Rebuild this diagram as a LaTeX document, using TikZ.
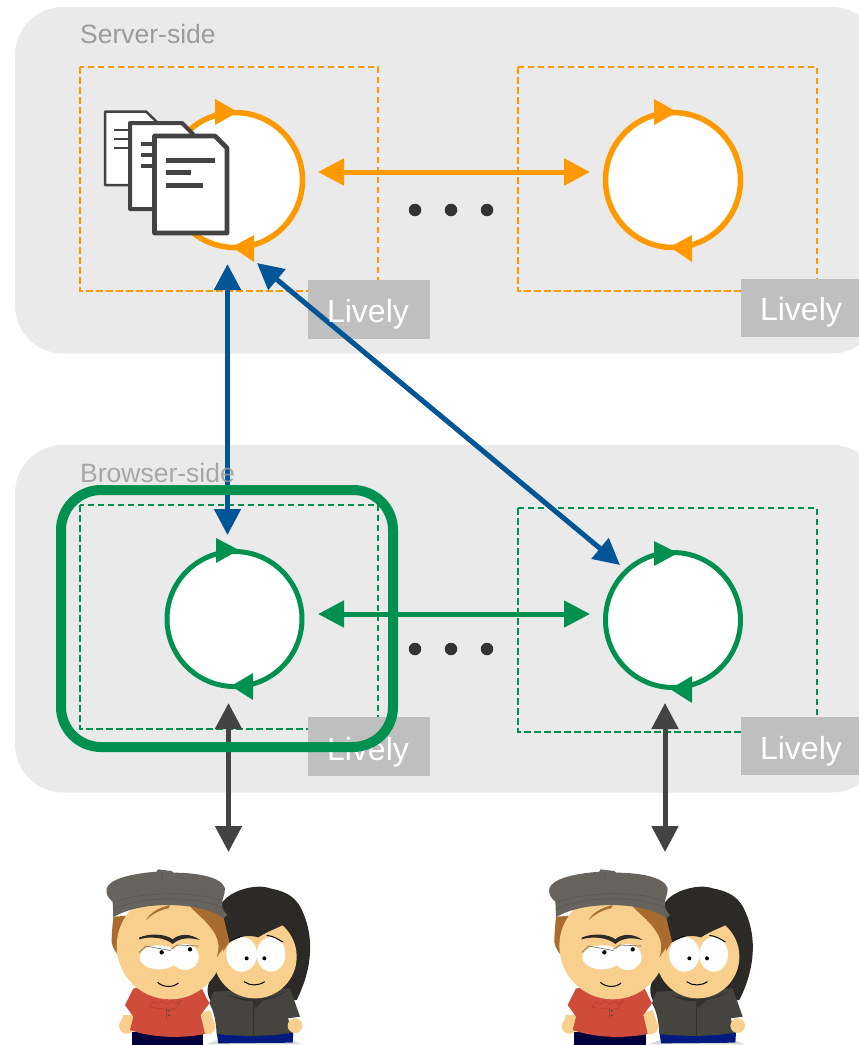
\documentclass[tikz,border=0pt]{standalone}
\usepackage{fontspec}
\setmainfont{Liberation Sans}
\usetikzlibrary{arrows.meta}
\definecolor{panelc}{HTML}{EAEAEA}
\definecolor{labelc}{HTML}{9B9B9B}
\definecolor{orangec}{HTML}{FF9900}
\definecolor{greenc}{HTML}{009150}
\definecolor{bluec}{HTML}{005596}
\definecolor{darkc}{HTML}{434343}
\definecolor{tagc}{HTML}{BFBFBF}
\definecolor{skinc}{HTML}{F9CF8D}
\definecolor{hatc}{HTML}{67645E}
\definecolor{hatl}{HTML}{55534D}
\definecolor{hairc}{HTML}{2B2A26}
\definecolor{brownc}{HTML}{A86C30}
\definecolor{shirtc}{HTML}{CF4C3A}
\definecolor{shirtl}{HTML}{A93C2E}
\definecolor{jacketc}{HTML}{46443F}
\definecolor{jacketl}{HTML}{33312D}
\definecolor{manjeans}{HTML}{00013C}
\definecolor{womanjeans}{HTML}{001A80}
\tikzset{
  x=1pt,y=-1pt,
  panel/.style={fill=panelc,draw=none,rounded corners=48pt},
  zonelabel/.style={text=labelc,font=\fontsize{26.5}{30}\selectfont,anchor=west,inner sep=0pt},
  tag/.style={fill=tagc,minimum width=122pt,minimum height=59pt,inner sep=0pt},
  tagtext/.style={text=white,font=\fontsize{32}{36}\selectfont,inner sep=0pt},
  zone/.style={draw=#1,line width=1.8pt,dash pattern=on 6.5pt off 3.5pt},
  loopc/.style={circle,fill=white,draw=#1,minimum size=135pt,inner sep=0pt},
  looptip/.style={fill=#1,draw=none},
  link/.style={draw=#1,line width=5pt,{Triangle[length=26pt,width=26pt]}-{Triangle[length=26pt,width=26pt]}},
  dotc/.style={circle,fill=black!80,minimum size=12.5pt,inner sep=0pt},
  docc/.style={draw=darkc,fill=white,line join=round},
  docl/.style={draw=darkc},
}
\newcommand{\folks}[2]{%
\begin{scope}[shift={(#1,#2)},scale=1/3]
  \fill[hairc] (395,130) .. controls (420,90) and (500,70) .. (540,85) .. controls (590,95) and (620,110) .. (640,160)
     .. controls (670,230) and (670,320) .. (620,420) -- (360,420) .. controls (345,390) and (355,360) .. (375,340) -- (400,240) -- cycle;
  \fill[black!15] (350,553) -- (635,553) -- (610,542) -- (375,542) -- cycle;
  \fill[womanjeans] (380,515) -- (610,515) -- (608,548) -- (385,550) -- cycle;
  \fill[jacketc] (372,395) .. controls (365,410) and (360,420) .. (358,430) .. controls (370,450) and (378,480) .. (380,522) .. controls (450,530) and (540,530) .. (606,518) .. controls (600,500) and (598,485) .. (594,475) -- (630,470) -- (600,385) -- cycle;
  \fill[skinc] (615,497) circle[radius=22];
  \fill[skinc] (495,290) circle[radius=125];
  \fill[jacketl] (415,405) .. controls (440,420) and (470,425) .. (487,422) -- (497,445) -- (520,420) .. controls (550,415) and (575,405) .. (590,392) .. controls (570,405) and (530,417) .. (495,417) .. controls (465,417) and (440,412) .. (415,405) -- cycle;
  \draw[jacketl,line width=.4pt] (490,420) -- (490,530);
  \fill[hairc] (400,130) .. controls (450,90) and (550,90) .. (610,125) .. controls (630,170) and (610,180) .. (590,190)
    .. controls (560,205) and (530,215) .. (505,232) .. controls (470,222) and (440,232) .. (415,245) -- (395,200) -- cycle;
  \fill[white] (455,283) ellipse[x radius=46,y radius=52];
  \fill[white] (543,283) ellipse[x radius=43,y radius=52];
  \fill[black] (470,295) circle[radius=6] (523,295) circle[radius=6];
  \draw[black,line width=1pt] (462,365) .. controls (480,378) and (505,378) .. (524,365);
  \draw[black,line width=1pt] (530,226) .. controls (550,228) and (565,238) .. (578,246);
  \draw[black,line width=1pt] (415,247) .. controls (430,238) and (445,232) .. (458,228);
  \fill[skinc] (100,465) -- (135,465) -- (130,505) -- (90,495) -- cycle (332,460) -- (360,450) -- (377,500) -- (340,510) -- cycle;
  \fill[skinc] (110,498) circle[radius=23] (353,500) circle[radius=23];
  \fill[manjeans] (125,515) -- (340,515) -- (340,555) -- (125,555) -- cycle;
  \fill[shirtc] (130,385) -- (105,435) -- (130,470) -- (120,510) .. controls (190,535) and (280,535) .. (345,522) -- (332,465) -- (358,430) -- (330,375) -- cycle;
  \draw[shirtl,line width=.4pt] (178,442) -- (190,425) -- (205,432) -- (215,422) -- (230,432) -- (250,422) -- (255,432) -- (272,422) -- (258,445) -- (232,448) -- (178,442);
  \draw[shirtl,line width=.4pt] (230,445) -- (230,478);
  \fill[brownc] (70,170) -- (395,150) .. controls (405,190) and (412,220) .. (418,245) -- (390,290) -- (82,282) .. controls (72,270) and (62,250) .. (65,235) .. controls (66,210) and (68,190) .. (70,170) -- cycle;
  \fill[skinc] (240,258) circle[radius=160];
  \fill[brownc] (168,180) .. controls (180,160) and (200,145) .. (240,135) -- (235,145) .. controls (210,150) and (190,160) .. (168,180) -- cycle;
  \fill[brownc] (300,140) -- (345,130) -- (395,190) -- (410,250) -- (380,292) .. controls (392,260) and (385,230) .. (360,200) .. controls (345,180) and (320,160) .. (300,140) -- cycle;
  \fill[hatc] (50,85) .. controls (58,60) and (110,42) .. (200,35) -- (204,28) -- (245,33) -- (250,38) .. controls (310,38) and (395,48) .. (405,85)
     .. controls (405,105) and (395,120) .. (395,135) .. controls (398,150) and (405,158) .. (412,165) -- (400,175) .. controls (340,125) and (150,120) .. (70,172) -- (68,125) .. controls (50,110) and (48,100) .. (50,85) -- cycle;
  \draw[hatl,line width=.4pt] (70,128) .. controls (150,95) and (320,90) .. (397,125);
  \draw[hatl,line width=.4pt] (70,148) .. controls (150,108) and (320,105) .. (400,145);
  \draw[hatl,line width=.4pt] (213,35) .. controls (220,45) and (218,55) .. (214,62);
  \fill[white] (207,292) ellipse[x radius=58,y radius=36];
  \fill[white] (285,291) ellipse[x radius=42,y radius=39];
  \draw[black!60,line width=.6pt] (147,277) -- (168,258) -- (242,272) (242,268) -- (262,255) -- (325,258);
  \fill[black] (215,277) circle[radius=6.5] (300,268) circle[radius=6.5];
  \fill[hairc] (147,233) .. controls (180,218) and (228,222) .. (248,238) .. controls (265,222) and (300,218) .. (330,240) .. controls (300,232) and (270,232) .. (248,252) .. controls (225,232) and (180,228) .. (147,238) -- cycle;
  \draw[black,line width=1pt] (203,367) .. controls (220,383) and (250,383) .. (265,369);
  \fill[black!70] (237,452) circle[radius=3.5] (237,466) circle[radius=3.5];
\end{scope}}
\begin{document}
\begin{tikzpicture}
\useasboundingbox (0,0) rectangle (859,1045);
\begin{scope}
\clip (0,0) rectangle (859,1045);
\path[panel] (15,7) rectangle (880,353.5);
\path[panel] (15,445) rectangle (880,792.5);
\end{scope}
\node[zonelabel] (serverlabel) at (80,34) {Server-side};
\draw[zone=orangec] (80,67) rectangle (378,291);
\draw[zone=orangec] (518,67) rectangle (817,291);
\draw[zone=greenc] (80,505) rectangle (378,729);
\draw[zone=greenc] (518,508) rectangle (817,732);
\node[loopc=orangec,line width=5.5pt] (os1) at (235,180) {};
\node[loopc=orangec,line width=5.5pt] (os2) at (673,180) {};
\node[loopc=greenc,line width=5pt] (gs1) at (234.5,619) {};
\node[loopc=greenc,line width=5pt] (gs2) at (673,620) {};
\fill[looptip=orangec] (215,99) -- (238,112) -- (215,125) -- cycle;
\fill[looptip=orangec] (254,235) -- (232,247) -- (254,262) -- cycle;
\fill[looptip=orangec] (654,99) -- (677,112) -- (654,125) -- cycle;
\fill[looptip=orangec] (692,235) -- (670,247) -- (692,262) -- cycle;
\fill[looptip=greenc] (216,538) -- (239,550) -- (216,563) -- cycle;
\fill[looptip=greenc] (253,673) -- (231,686) -- (253,700) -- cycle;
\fill[looptip=greenc] (654,541) -- (678,553) -- (654,566) -- cycle;
\fill[looptip=greenc] (692,676) -- (670,689) -- (692,703) -- cycle;
\draw[docc,line width=2.5pt] (105,111.5) -- (146,111.5) -- (157,122) -- (157,185) -- (105,185) -- cycle;
\draw[docl,line width=2pt] (114,130) -- (129,130) (114,139) -- (129,139) (114,148) -- (129,148);
\draw[docc,line width=4pt] (130,123) -- (182,123) -- (193,134) -- (193,209) -- (130,209) -- cycle;
\draw[docl,line width=3.5pt] (141,144) -- (153,144) (141,155) -- (153,155) (141,166) -- (153,166);
\draw[docc,line width=4.7pt] (154.5,136) -- (215,136) -- (227,148) -- (227,233) -- (154.5,233) -- cycle;
\draw[docl,line width=5pt] (166,160) -- (215,160) (166,172) -- (191,172) (166,185) -- (203,185);
\node[tag] (tag1) at (369,309.5) {};
\node[tag,minimum width=118pt,minimum height=58pt] (tag2) at (800,308) {};
\node[tag] (tag3) at (369,746.5) {};
\node[tag,minimum width=118pt,minimum height=58pt] (tag4) at (800,746) {};
\coordinate (oa) at (318,172); \coordinate (ob) at (590,172);
\coordinate (ga) at (318,614); \coordinate (gb) at (590,614);
\coordinate (ba) at (227.5,264); \coordinate (bb) at (227.5,535);
\coordinate (ca) at (257,263); \coordinate (cb) at (620,565);
\coordinate (da) at (228.5,703); \coordinate (db) at (228.5,852);
\coordinate (ea) at (665,703); \coordinate (eb) at (665,852);
\draw[link=orangec] (oa) -- (ob);
\draw[link=greenc] (ga) -- (gb);
\draw[link=bluec] (ba) -- (bb);
\draw[link=bluec] (ca) -- (cb);
\draw[link=darkc] (da) -- (db);
\draw[link=darkc] (ea) -- (eb);
\foreach \n/\xx in {a/415,b/451,c/487}{
  \node[dotc] (up\n) at (\xx,210) {};
  \node[dotc] (lo\n) at (\xx,649) {};
}
\node[tagtext] (t1) at (368,314) {Lively};
\node[tagtext] (t2) at (801,312) {Lively};
\node[tagtext] (t3) at (368,752) {Lively};
\node[tagtext] (t4) at (801,751) {Lively};
\node[zonelabel,opacity=.85] (browserlabel) at (80,473) {Browser-side};
\draw[greenc,line width=10pt,rounded corners=40pt] (61,490) rectangle (393,747);
\folks{90}{860}
\folks{532.7}{860}
\end{tikzpicture}
\end{document}
